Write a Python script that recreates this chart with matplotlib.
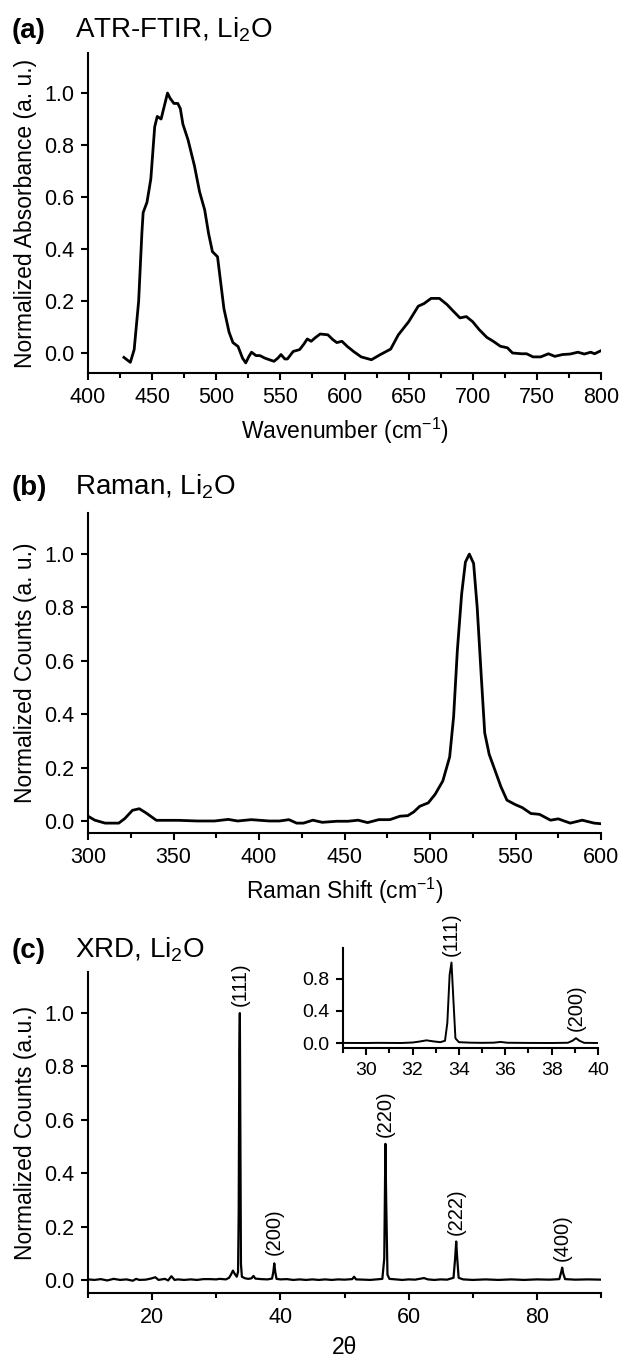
import matplotlib
matplotlib.use("Agg")
import matplotlib.pyplot as plt
from matplotlib.ticker import MultipleLocator

plt.rcParams["font.family"] = ["Liberation Sans", "DejaVu Sans"]
plt.rcParams["mathtext.default"] = "regular"

# ATR-FTIR spectrum (wavenumber, normalized absorbance)
ftir_x = [428, 433, 436, 439.5, 442, 443, 446, 449, 452, 454, 457, 459, 462, 464,
          467, 470, 472, 474, 478, 483, 487, 491, 494, 497, 501, 503, 506, 510,
          513, 517, 520.5, 523, 525.5, 527.5, 531, 534, 538, 545, 548, 550.5,
          553.5, 555.5, 560, 565, 568, 571, 574, 577, 581, 587, 591, 594, 598,
          602, 607, 613, 621, 628, 636, 642, 650, 657.5, 662, 667.5, 674, 680,
          685, 690, 695, 700, 705, 711, 716, 721.5, 727, 731, 738, 742, 747,
          753, 759, 764, 770, 776, 782, 787, 792, 795, 800]
ftir_y = [-0.017, -0.036, 0.013, 0.2, 0.46, 0.54, 0.58, 0.67, 0.87, 0.91, 0.90,
          0.94, 1.0, 0.98, 0.96, 0.96, 0.94, 0.88, 0.82, 0.72, 0.62, 0.55, 0.46,
          0.39, 0.37, 0.29, 0.17, 0.08, 0.04, 0.025, -0.02, -0.038, -0.013,
          0.003, -0.01, -0.01, -0.02, -0.032, -0.02, -0.006, -0.023, -0.023,
          0.006, 0.013, 0.032, 0.054, 0.045, 0.058, 0.073, 0.07, 0.051, 0.04,
          0.045, 0.026, 0.006, -0.015, -0.026, -0.006, 0.015, 0.07, 0.12, 0.18,
          0.19, 0.21, 0.21, 0.186, 0.16, 0.135, 0.14, 0.12, 0.09, 0.06, 0.045,
          0.026, 0.02, 0.0, -0.003, -0.003, -0.015, -0.015, -0.003, -0.013,
          -0.006, -0.004, 0.003, -0.004, 0.003, -0.003, 0.009]

# Raman spectrum (shift, normalized counts)
raman_x = [300, 304, 310, 318, 321.5, 326, 330, 334, 340, 353, 364, 374, 382,
           387.5, 395.5, 406, 412, 417.5, 422, 426, 431.5, 437, 445.5, 452, 458,
           463.5, 470, 476.5, 482.5, 487, 490.5, 494, 499, 503, 507.5, 511.5,
           513.8, 516, 518.5, 520.7, 523, 525.5, 527.6, 530, 532, 534.6, 538,
           541.5, 545, 549.7, 554, 559, 564, 570.5, 575, 582, 589, 596, 599.5]
raman_y = [0.018, 0.003, -0.008, -0.008, 0.009, 0.04, 0.046, 0.03, 0.0025,
           0.0025, 0.0, 0.0, 0.006, 0.0, 0.005, 0.0, 0.0, 0.005, -0.008, -0.008,
           0.003, -0.005, -0.001, -0.001, 0.003, -0.006, 0.005, 0.005, 0.018,
           0.02, 0.034, 0.055, 0.068, 0.1, 0.15, 0.24, 0.39, 0.64, 0.85, 0.97,
           1.0, 0.965, 0.80, 0.54, 0.33, 0.25, 0.19, 0.128, 0.078, 0.062, 0.05,
           0.028, 0.025, 0.003, 0.008, -0.008, 0.003, -0.008, -0.01]

# XRD pattern (2theta, normalized counts)
xrd_x = [10, 11, 12, 13, 14, 15, 16, 17, 17.5, 18, 19, 19.8, 20.5, 21, 22, 22.5,
         23, 23.5, 24, 25, 26, 27, 28, 29, 30, 30.5, 31, 31.5, 32, 32.3, 32.6,
         32.9, 33.2, 33.4, 33.5, 33.6, 33.68, 33.76, 33.85, 34.0, 34.5, 35.0,
         35.5, 35.8, 36.1, 37, 38, 38.7, 38.9, 39.05, 39.2, 39.4, 40, 41, 42,
         43, 44, 45, 46, 47, 48, 49, 50, 51.2, 51.5, 51.8, 53, 54, 55, 55.9,
         56.2, 56.38, 56.5, 56.7, 57, 58, 59, 60, 61, 62.4, 63, 64, 65, 66,
         67.0, 67.25, 67.42, 67.55, 67.8, 68.5, 70, 72, 74, 76, 78, 80, 82,
         83.5, 83.8, 83.95, 84.1, 84.4, 86, 88, 90]
xrd_y = [0.002, 0.0, 0.003, -0.002, 0.004, 0.0, 0.002, -0.003, 0.004, 0.0,
         0.001, 0.005, 0.010, 0.0, 0.004, -0.002, 0.014, 0.0, 0.002, 0.0, 0.002,
         0.0, 0.003, 0.003, 0.002, 0.004, 0.003, 0.002, 0.008, 0.020, 0.035,
         0.022, 0.012, 0.03, 0.25, 0.85, 1.0, 0.55, 0.06, 0.012, 0.006, 0.004,
         0.006, 0.015, 0.005, 0.003, 0.002, 0.005, 0.03, 0.062, 0.03, 0.004,
         0.002, 0.003, 0.0, 0.002, 0.0, 0.002, 0.0, 0.002, 0.0, 0.002, 0.001,
         0.003, 0.012, 0.002, 0.001, 0.0, 0.002, 0.004, 0.08, 0.51, 0.30, 0.02,
         0.004, 0.002, 0.0, 0.002, 0.001, 0.007, 0.002, 0.0, 0.002, 0.001,
         0.008, 0.08, 0.144, 0.09, 0.008, 0.002, 0.0, 0.002, 0.0, 0.002, 0.0,
         0.002, 0.001, 0.003, 0.03, 0.046, 0.025, 0.003, 0.001, 0.002, 0.001]

# Miller index labels
hkl_labels = ["(111)", "(200)", "(220)", "(222)", "(400)"]
hkl_pos = [33.68, 39.05, 56.38, 67.42, 83.95]
hkl_height = [1.0, 0.068, 0.51, 0.144, 0.046]
inset_labels = ["(111)", "(200)"]
inset_pos = [33.68, 39.05]
inset_height = [1.0, 0.062]

W, H = 621, 1357
fig = plt.figure(figsize=(W / 100, H / 100), dpi=100)


def px_axes(left, top, right, bottom):
    return fig.add_axes([left / W, 1 - bottom / H, (right - left) / W, (bottom - top) / H])


def style(ax, fs=15.5):
    for s in ("top", "right"):
        ax.spines[s].set_visible(False)
    for s in ("left", "bottom"):
        ax.spines[s].set_linewidth(1.5)
    ax.tick_params(which="major", direction="out", length=5, width=1.5, labelsize=fs, pad=5)
    ax.tick_params(which="minor", direction="out", length=3.5, width=1.5)


ax1 = px_axes(88, 53, 601, 373)
ax2 = px_axes(88, 513, 601, 833)
ax3 = px_axes(88, 972, 601, 1293)
axin = px_axes(343, 948, 598, 1048)

# (a) ATR-FTIR
ax1.plot(ftir_x, ftir_y, color="black", lw=2)
ax1.set_xlim(400, 800)
ax1.set_ylim(-0.077, 1.154)
ax1.xaxis.set_major_locator(MultipleLocator(50))
ax1.xaxis.set_minor_locator(MultipleLocator(25))
ax1.yaxis.set_major_locator(MultipleLocator(0.2))
style(ax1)
ax1.set_xlabel("Wavenumber (cm$^{-1}$)", fontsize=16.5, labelpad=6)
ax1.set_ylabel("Normalized Absorbance (a. u.)", fontsize=16.5, labelpad=5)

# (b) Raman
ax2.plot(raman_x, raman_y, color="black", lw=2)
ax2.set_xlim(300, 600)
ax2.set_ylim(-0.045, 1.154)
ax2.xaxis.set_major_locator(MultipleLocator(50))
ax2.xaxis.set_minor_locator(MultipleLocator(25))
ax2.yaxis.set_major_locator(MultipleLocator(0.2))
style(ax2)
ax2.set_xlabel("Raman Shift (cm$^{-1}$)", fontsize=16.5, labelpad=6)
ax2.set_ylabel("Normalized Counts (a. u.)", fontsize=16.5, labelpad=5)

# (c) XRD
ax3.plot(xrd_x, xrd_y, color="black", lw=1.6)
ax3.set_xlim(10, 90)
ax3.set_ylim(-0.049, 1.154)
ax3.xaxis.set_major_locator(MultipleLocator(20))
ax3.xaxis.set_minor_locator(MultipleLocator(10))
ax3.yaxis.set_major_locator(MultipleLocator(0.2))
style(ax3)
ax3.set_xlabel("2θ", fontsize=16.5, labelpad=6)
ax3.set_ylabel("Normalized Counts (a.u.)", fontsize=16.5, labelpad=5)
for lab, xp, yp in zip(hkl_labels, hkl_pos, hkl_height):
    ax3.annotate(lab, (xp, yp), xytext=(0, 5), textcoords="offset points",
                 rotation=90, ha="center", va="bottom", fontsize=14.5)

# inset
axin.plot(xrd_x, xrd_y, color="black", lw=1.4)
axin.set_xlim(29, 40)
axin.set_ylim(-0.06, 1.18)
axin.xaxis.set_major_locator(MultipleLocator(2))
axin.xaxis.set_minor_locator(MultipleLocator(1))
axin.set_yticks([0.0, 0.4, 0.8])
style(axin, fs=14)
axin.patch.set_alpha(0)
for lab, xp, yp in zip(inset_labels, inset_pos, inset_height):
    axin.annotate(lab, (xp, yp), xytext=(0, 5), textcoords="offset points",
                  rotation=90, ha="center", va="bottom", fontsize=14.5,
                  annotation_clip=False)

# panel titles
for letter, name, ybase in [("(a)", "ATR-FTIR, Li$_2$O", 38),
                            ("(b)", "Raman, Li$_2$O", 495),
                            ("(c)", "XRD, Li$_2$O", 958)]:
    fig.text(12 / W, 1 - ybase / H, letter, fontsize=20, fontweight="bold", va="baseline")
    fig.text(75 / W, 1 - ybase / H, name, fontsize=20, va="baseline")

fig.savefig("out.png", dpi=100)
